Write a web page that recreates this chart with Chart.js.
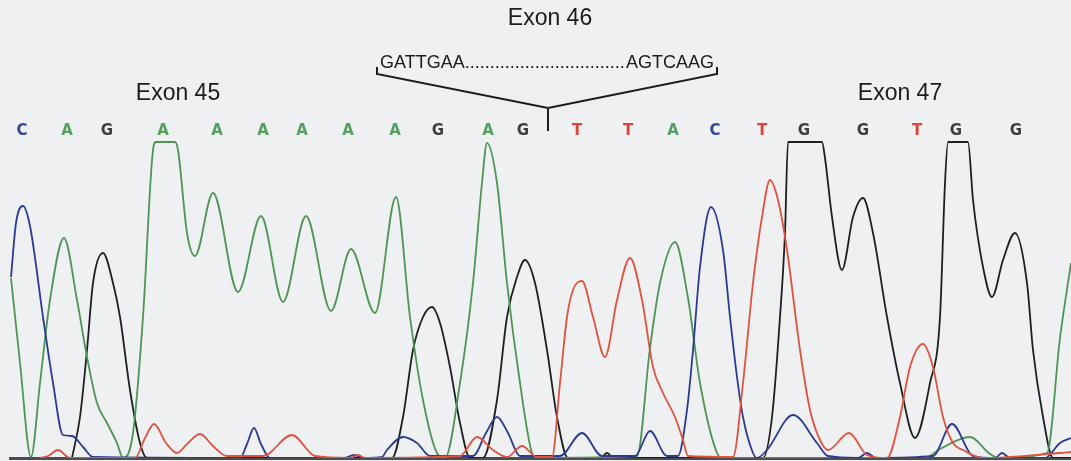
<!DOCTYPE html>
<html>
<head>
<meta charset="utf-8">
<script src="https://cdn.jsdelivr.net/npm/chart.js@4.4.1/dist/chart.umd.min.js"></script>
<style>
  html, body { margin: 0; padding: 0; background: #eef0f2; }
  #wrap { width: 1071px; height: 461px; position: relative; }
</style>
</head>
<body>
<div id="wrap"><canvas id="trace"></canvas></div>
<script>
// scan range shown and signal ceiling (peaks above it are clipped flat)
const scanMin = 10;
const scanMax = 1071;
const signalMax = 320;

// base calls and the scan at which each one was called
const baseCalls = ['C','A','G','A','A','A','A','A','A','G','A','G','T','T','A','C','T','G','G','T','G','G'];
const baseCallScans = [22, 67, 107, 163, 217, 263, 302, 348, 395, 438, 488, 523, 577, 628, 673, 715, 762, 804, 863, 917, 956, 1016];

// exon labels
const exonLabels = ['Exon 45', 'Exon 46', 'Exon 47'];
const exonScans = [178, 550, 900];

// skipped exon 46 insert: junction and bracket ends
const junctionScan = 548;
const insertStart = 'GATTGAA';
const insertEnd = 'AGTCAAG';
const bracketScans = [377, 717];

// traces: [scan, signal]
const traceA = [
  [11,180],[20,95],[31,1],[40,75],[50,158],[64,220],[77,158],[87,101],[97,55],[107,35],[117,15],[123,0],
  [133,25],[143,141],[153,308],[156,316],[175,316],[178,308],[187,225],[195,202],[213,265],[238,166],
  [261,242],[283,156],[306,242],[331,147],[351,209],[375,145],[396,261],[410,141],[423,58],[437,5],[445,0],
  [460,75],[473,175],[482,275],[487,315],[497,275],[507,175],[520,75],[532,5],[537,0],
  [637,2],[650,110],[660,175],[675,216],[688,160],[700,75],[717,5],[723,0],
  [925,0],[940,9],[970,21],[990,4],[1000,0],[1047,5],[1060,120],[1071,195]
];
const traceC = [
  [11,181],[16,235],[23,252],[30,232],[43,141],[53,75],[63,23],[72,22],[83,11],[93,1],
  [240,0],[247,14],[254,30],[261,14],[270,0],[344,0],[354,3],[364,0],
  [382,1],[387,8],[403,21],[417,15],[430,2],[473,2],[486,25],[497,41],[508,25],[520,2],
  [560,2],[582,25],[602,2],[635,2],[650,27],[667,2],[678,2],[687,48],[693,108],[700,191],[711,251],
  [723,208],[730,141],[737,81],[743,41],[753,5],[757,0],[767,8],[793,43],[817,15],[828,2],
  [858,0],[867,5],[876,0],[933,2],[952,34],[973,2],[995,0],[1002,5],[1010,0],[1045,0],[1060,15],[1071,20]
];
const traceG = [
  [72,0],[80,41],[87,108],[93,175],[103,205],[113,175],[120,141],[130,68],[140,15],[147,0],
  [392,0],[403,41],[413,108],[423,141],[432,151],[440,135],[450,91],[460,35],[470,0],
  [483,0],[497,58],[507,141],[517,181],[525,198],[535,175],[547,108],[557,41],[568,0],
  [600,0],[607,5],[614,0],[763,0],[772,41],[780,141],[785,225],[788,316],[822,316],[825,300],
  [832,241],[842,188],[853,241],[863,260],[873,225],[887,141],[900,75],[915,20],[930,75],[940,141],
  [945,275],[948,316],[968,316],[973,258],[983,191],[992,161],[1003,198],[1015,225],[1027,175],
  [1033,108],[1043,41],[1053,0],[1071,0]
];
const traceT = [
  [40,0],[48,2],[58,8],[70,0],[135,0],[145,20],[154,34],[166,15],[177,5],[188,15],[200,24],[213,12],[227,2],
  [263,2],[292,23],[315,2],[350,0],[358,3],[365,0],[460,2],[477,21],[493,8],[507,1],[522,12],[537,1],
  [552,1],[560,75],[567,141],[573,168],[582,177],[593,141],[605,101],[617,158],[630,200],[642,158],
  [653,91],[663,65],[675,41],[683,18],[688,2],[733,1],[743,75],[753,175],[762,241],[770,278],[778,258],
  [787,208],[800,108],[810,48],[820,18],[828,8],[849,25],[867,3],[887,0],[900,41],[910,91],[923,114],
  [933,91],[943,41],[953,15],[963,8],[983,0],[1060,5],[1071,6]
];

const traceColors = { A: '#4f9455', C: '#2c3a93', G: '#1f1f1f', T: '#e0523f' };
const letterColors = { A: '#55a060', C: '#34449a', G: '#3c3c3c', T: '#d9463a' };

function toPoints(arr) {
  return arr.map(function (p) { return { x: p[0], y: p[1] }; });
}

const annotate = {
  id: 'annotate',
  afterDatasetsDraw(chart) {
    const ctx = chart.ctx;
    const xs = chart.scales.x;
    ctx.save();
    ctx.textAlign = 'center';
    ctx.textBaseline = 'middle';

    // base calls
    ctx.font = 'bold 15px "DejaVu Sans"';
    baseCalls.forEach(function (b, i) {
      ctx.fillStyle = letterColors[b];
      ctx.fillText(b, xs.getPixelForValue(baseCallScans[i]), 131);
    });

    // exon labels
    ctx.font = '23px "Liberation Sans"';
    ctx.fillStyle = '#1c1c1c';
    exonLabels.forEach(function (t, i) {
      const y = i === 1 ? 19 : 94;
      ctx.fillText(t, xs.getPixelForValue(exonScans[i]), y);
    });

    // insert sequence with dotted gap
    const jx = xs.getPixelForValue(junctionScan);
    const lx = xs.getPixelForValue(bracketScans[0]);
    const rx = xs.getPixelForValue(bracketScans[1]);
    ctx.font = '18px "Liberation Sans"';
    ctx.textAlign = 'left';
    ctx.fillText(insertStart, lx + 3, 63);
    ctx.textAlign = 'right';
    ctx.fillText(insertEnd, rx - 3, 63);
    const w1 = ctx.measureText(insertStart).width;
    const w2 = ctx.measureText(insertEnd).width;
    ctx.textAlign = 'left';
    const dotW = ctx.measureText('.').width;
    const gap = (rx - 3 - w2) - (lx + 3 + w1);
    ctx.fillText('.'.repeat(Math.floor(gap / dotW)), lx + 3 + w1, 63);

    // bracket
    ctx.strokeStyle = '#1c1c1c';
    ctx.lineWidth = 2;
    ctx.beginPath();
    ctx.moveTo(lx, 67);
    ctx.lineTo(lx, 74);
    ctx.lineTo(jx, 108);
    ctx.lineTo(rx, 74);
    ctx.lineTo(rx, 67);
    ctx.moveTo(jx, 108);
    ctx.lineTo(jx, 131);
    ctx.stroke();
    ctx.restore();
  }
};

new Chart(document.getElementById('trace'), {
  type: 'line',
  data: {
    datasets: [
      { label: 'T', data: toPoints(traceT), borderColor: traceColors.T },
      { label: 'C', data: toPoints(traceC), borderColor: traceColors.C },
      { label: 'A', data: toPoints(traceA), borderColor: traceColors.A },
      { label: 'G', data: toPoints(traceG), borderColor: traceColors.G }
    ]
  },
  options: {
    responsive: true,
    maintainAspectRatio: false,
    animation: false,
    layout: { padding: { left: 10, right: 0, top: 458 - signalMax, bottom: 3 } },
    elements: {
      point: { radius: 0 },
      line: { borderWidth: 1.8, cubicInterpolationMode: 'monotone', fill: false }
    },
    plugins: { legend: { display: false }, tooltip: { enabled: false } },
    scales: {
      x: {
        type: 'linear', min: scanMin, max: scanMax,
        ticks: { display: false },
        grid: { display: false, drawTicks: false },
        border: { display: true, color: '#4d4d4d', width: 3 }
      },
      y: { display: false, min: 0, max: signalMax }
    }
  },
  plugins: [annotate]
});
</script>
</body>
</html>
